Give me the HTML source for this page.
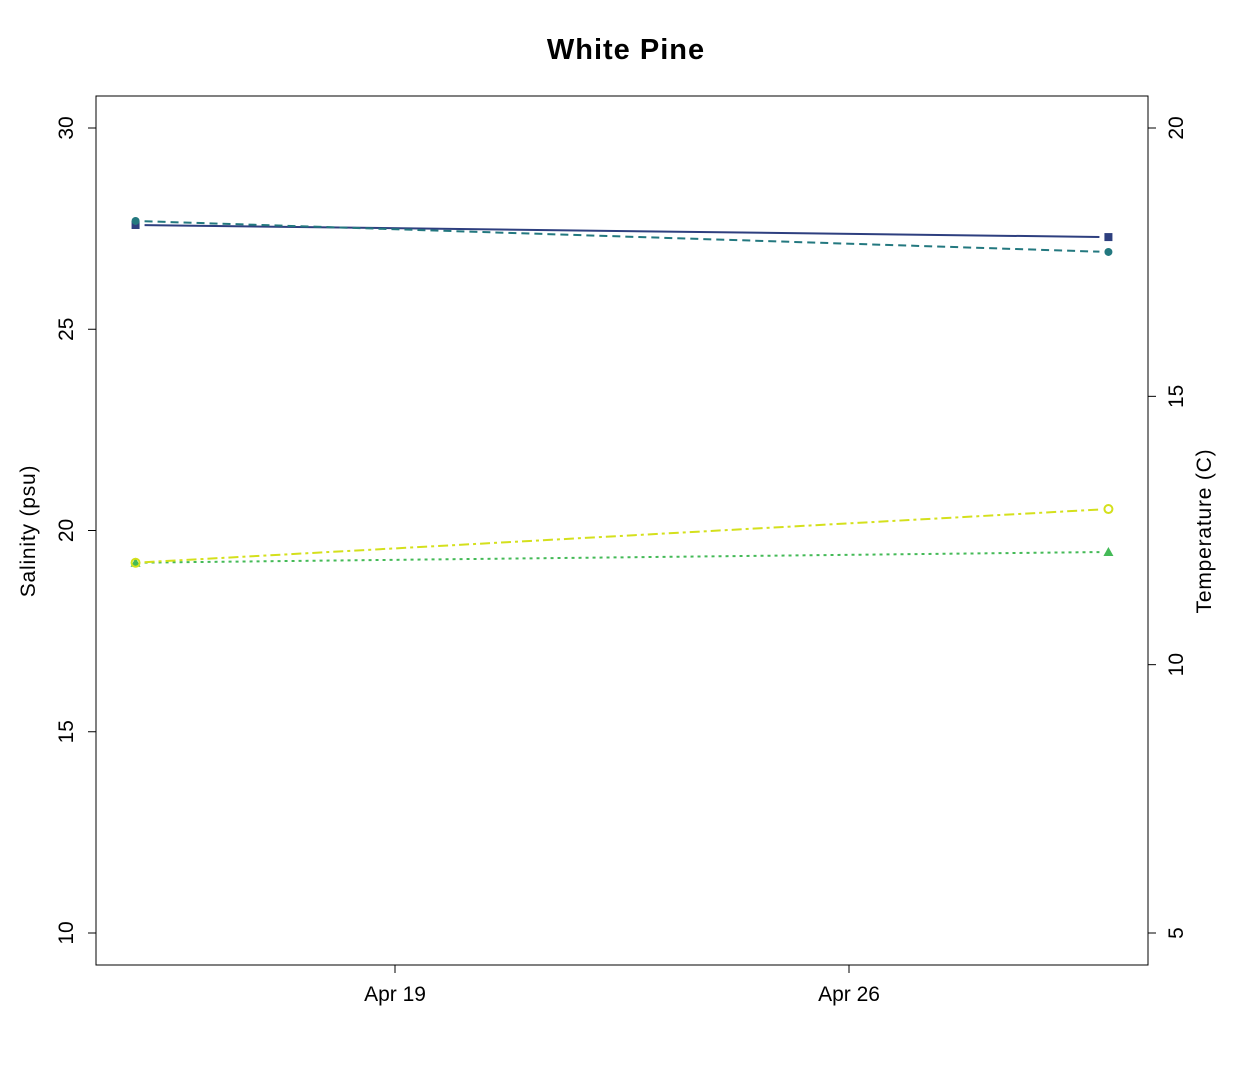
<!DOCTYPE html>
<html><head><meta charset="utf-8"><style>
html,body{margin:0;padding:0;background:#fff;}
svg text{font-family:"Liberation Sans",Arial,sans-serif;}
</style></head><body>
<svg id="chart" width="1244" height="1062" xmlns="http://www.w3.org/2000/svg">
<text x="626" y="59" text-anchor="middle" font-size="29" font-weight="bold" letter-spacing="1">White Pine</text>
<rect x="96" y="96" width="1052" height="869" fill="none" stroke="#000" stroke-width="1"/>
<g id="axes"></g>
<g id="series"></g>
<text transform="translate(35,531) rotate(-90)" text-anchor="middle" font-size="21" letter-spacing="0.8">Salinity (psu)</text>
<text transform="translate(1211,531) rotate(-90)" text-anchor="middle" font-size="21" letter-spacing="0.8">Temperature (C)</text>
</svg>
<script>
const dates = [-4, 11]; // days relative to Apr 19
const salinityA = [27.59, 27.29];
const salinityB = [27.69, 26.92];
const tempA = [11.9, 12.1];
const tempB = [11.9, 12.9];
const leftTicks = [10, 15, 20, 25, 30];
const rightTicks = [5, 10, 15, 20];
const xTickDays = [0, 7];
const xTickLabels = ["Apr 19", "Apr 26"];

const NS = "http://www.w3.org/2000/svg";
const xS = d => 395 + d * (454 / 7);
const yL = v => 128 + (30 - v) * (805 / 20);
const yR = v => 128 + (20 - v) * (805 / 15);
function mk(tag, attrs, parent) {
  const e = document.createElementNS(NS, tag);
  for (const k in attrs) e.setAttribute(k, attrs[k]);
  parent.appendChild(e);
  return e;
}
const axes = document.getElementById('axes');
leftTicks.forEach(v => {
  const l = mk('line', {x1: 96, x2: 88, y1: yL(v), y2: yL(v), stroke: '#000'}, axes);
  
  
  const t = mk('text', {transform: `translate(73,${yL(v)}) rotate(-90)`, 'text-anchor': 'middle', 'font-size': 21}, axes);
  t.textContent = v;
  
  
});
rightTicks.forEach(v => {
  const l = mk('line', {x1: 1148, x2: 1156, y1: yR(v), y2: yR(v), stroke: '#000'}, axes);
  
  
  const t = mk('text', {transform: `translate(1183,${yR(v)}) rotate(-90)`, 'text-anchor': 'middle', 'font-size': 21}, axes);
  t.textContent = v;
  
  
});
xTickDays.forEach((d, i) => {
  const l = mk('line', {x1: xS(d), x2: xS(d), y1: 965, y2: 973, stroke: '#000'}, axes);
  
  
  const t = mk('text', {x: xS(d), y: 1001, 'text-anchor': 'middle', 'font-size': 21}, axes);
  t.textContent = xTickLabels[i];
  
  
});
const sg = document.getElementById('series');
function series(vals, yf, color, dash, marker, name) {
  const x0 = xS(dates[0]), x1 = xS(dates[1]), y0 = yf(vals[0]), y1 = yf(vals[1]);
  const dx = x1 - x0, dy = y1 - y0, len = Math.hypot(dx, dy), g = 9;
  const ln = mk('line', {x1: x0 + dx / len * g, y1: y0 + dy / len * g, x2: x1 - dx / len * g, y2: y1 - dy / len * g, stroke: color, 'stroke-width': 2, 'stroke-dasharray': dash}, sg);
  
  
  vals.forEach((v, i) => {
    const x = xS(dates[i]), y = yf(v);
    let m;
    if (marker === 'square') m = mk('rect', {x: x - 4, y: y - 4, width: 8, height: 8, fill: color}, sg);
    else if (marker === 'circle') m = mk('circle', {cx: x, cy: y, r: 4, fill: color}, sg);
    else if (marker === 'open') m = mk('circle', {cx: x, cy: y, r: 4, fill: 'none', stroke: color, 'stroke-width': 2}, sg);
    else m = mk('polygon', {points: `${x},${y - 5} ${x - 5},${y + 4} ${x + 5},${y + 4}`, fill: color}, sg);
    
    
  });
}
series(salinityA, yL, '#2e3f7f', 'none', 'square', 'salinity-a');
series(salinityB, yL, '#23787f', '8 5', 'circle', 'salinity-b');
series(tempA, yR, '#44ba57', '3 4', 'triangle', 'temperature-a');
series(tempB, yR, '#d4e01c', '10 4 3 4', 'open', 'temperature-b');
</script>
</body></html>
